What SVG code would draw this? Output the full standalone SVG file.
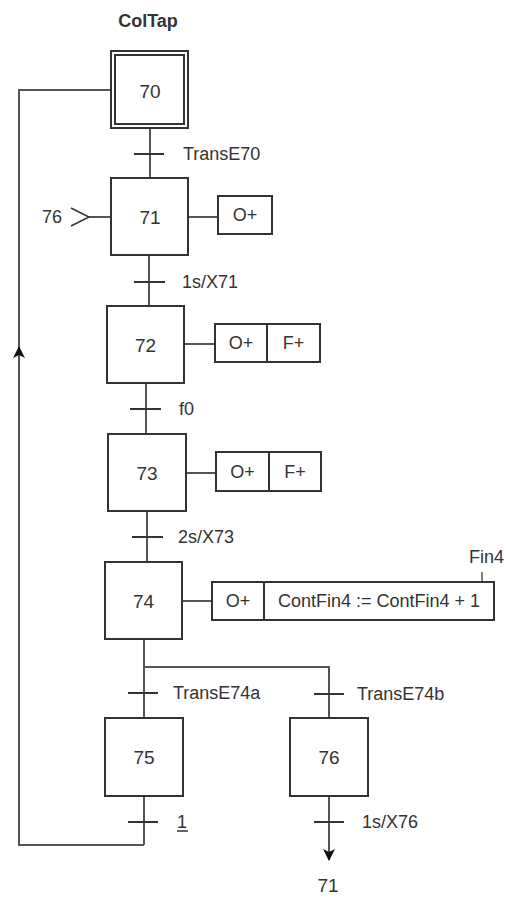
<svg xmlns="http://www.w3.org/2000/svg" width="509" height="900" viewBox="0 0 509 900">
<style>
  text { font-family: "Liberation Sans", Arial, sans-serif; font-size: 18px; fill: #333; }
  .c { text-anchor: middle; }
  .num { font-size: 19px; }
  .step { fill: #fff; stroke: #333; stroke-width: 2; }
  .act { fill: #fff; stroke: #333; stroke-width: 2; }
  .wire { fill: none; stroke: #555; stroke-width: 2; }
  .tick { stroke: #333; stroke-width: 2; }
</style>
<defs>
  <marker id="arr" viewBox="0 0 12 12" refX="11" refY="6" markerWidth="12" markerHeight="12" markerUnits="userSpaceOnUse" orient="auto">
    <path d="M0,0 L12,6 L0,12 L3,6 Z" fill="#111"/>
  </marker>
</defs>
<rect width="509" height="900" fill="#fff"/>
<text x="148" y="27" class="c" style="font-weight:bold">ColTap</text>

<g id="connectors">
  <path class="wire" d="M111,90 H19 V845 H144"/>
  <path class="wire" d="M19,400 V347" marker-end="url(#arr)"/>
  <path class="wire" d="M150,128 V178"/>
  <line class="tick" x1="134" y1="154" x2="164" y2="154"/>
  <path class="wire" d="M149,255 V306"/>
  <line class="tick" x1="134" y1="282" x2="165" y2="282"/>
  <path class="wire" d="M146,383 V434"/>
  <line class="tick" x1="130" y1="409" x2="161" y2="409"/>
  <path class="wire" d="M147,511 V562"/>
  <line class="tick" x1="132" y1="537" x2="163" y2="537"/>
  <path class="wire" d="M144,639 V718 M144,667 H329 V718"/>
  <line class="tick" x1="128" y1="693" x2="158" y2="693"/>
  <line class="tick" x1="314" y1="694" x2="344" y2="694"/>
  <path class="wire" d="M144,796 V845"/>
  <line class="tick" x1="128" y1="822" x2="158" y2="822"/>
  <path class="wire" d="M329,796 V860" marker-end="url(#arr)"/>
  <line class="tick" x1="314" y1="822" x2="344" y2="822"/>
  <path class="wire" d="M89,217 H111"/>
  <polyline class="wire" points="71,208 89,217 71,226" style="stroke:#333;stroke-width:1.5"/>
  <path class="wire" d="M188,217 H218"/>
  <path class="wire" d="M184,344 H215"/>
  <path class="wire" d="M186,473 H216"/>
  <path class="wire" d="M182,601 H212"/>
  <path class="wire" d="M482,572 V582" style="stroke-width:1.5"/>
</g>

<g id="labels">
  <text x="183" y="160">TransE70</text>
  <text x="182" y="288">1s/X71</text>
  <text x="179" y="415">f0</text>
  <text x="178" y="543">2s/X73</text>
  <text x="173" y="699">TransE74a</text>
  <text x="357" y="700">TransE74b</text>
  <text x="177" y="828">1</text>
  <line x1="177" y1="831" x2="188" y2="831" stroke="#333" stroke-width="1.5"/>
  <text x="362" y="828">1s/X76</text>
  <text x="62" y="223" style="text-anchor:end">76</text>
  <text x="328" y="892" class="c num">71</text>
  <text x="469" y="563">Fin4</text>
</g>

<g id="step70">
  <rect class="step" x="111" y="51" width="77" height="77"/>
  <rect class="step" x="115" y="55" width="69" height="69"/>
  <text x="150" y="98" class="c num">70</text>
</g>
<g id="step71">
  <rect class="step" x="111" y="178" width="77" height="77"/>
  <text x="150" y="224" class="c num">71</text>
</g>
<g id="action71">
  <rect class="act" x="218" y="196" width="54" height="38"/>
  <text x="245" y="221" class="c">O+</text>
</g>
<g id="step72">
  <rect class="step" x="107" y="306" width="77" height="77"/>
  <text x="145.5" y="352" class="c num">72</text>
</g>
<g id="action72">
  <rect class="act" x="215" y="324" width="105" height="38"/>
  <line x1="267" y1="324" x2="267" y2="362" stroke="#333" stroke-width="2"/>
  <text x="241" y="349" class="c">O+</text>
  <text x="293.5" y="349" class="c">F+</text>
</g>
<g id="step73">
  <rect class="step" x="108" y="434" width="78" height="77"/>
  <text x="147" y="480" class="c num">73</text>
</g>
<g id="action73">
  <rect class="act" x="216" y="452" width="105" height="39"/>
  <line x1="269" y1="452" x2="269" y2="491" stroke="#333" stroke-width="2"/>
  <text x="242.5" y="478" class="c">O+</text>
  <text x="295" y="478" class="c">F+</text>
</g>
<g id="step74">
  <rect class="step" x="105" y="562" width="77" height="77"/>
  <text x="143.5" y="608" class="c num">74</text>
</g>
<g id="action74">
  <rect class="act" x="212" y="582" width="282" height="38"/>
  <line x1="264" y1="582" x2="264" y2="620" stroke="#333" stroke-width="2"/>
  <text x="238" y="607" class="c">O+</text>
  <text x="379" y="607" class="c">ContFin4 := ContFin4 + 1</text>
</g>
<g id="step75">
  <rect class="step" x="105" y="718" width="78" height="78"/>
  <text x="144" y="764" class="c num">75</text>
</g>
<g id="step76">
  <rect class="step" x="290" y="718" width="78" height="78"/>
  <text x="329" y="764" class="c num">76</text>
</g>
</svg>
